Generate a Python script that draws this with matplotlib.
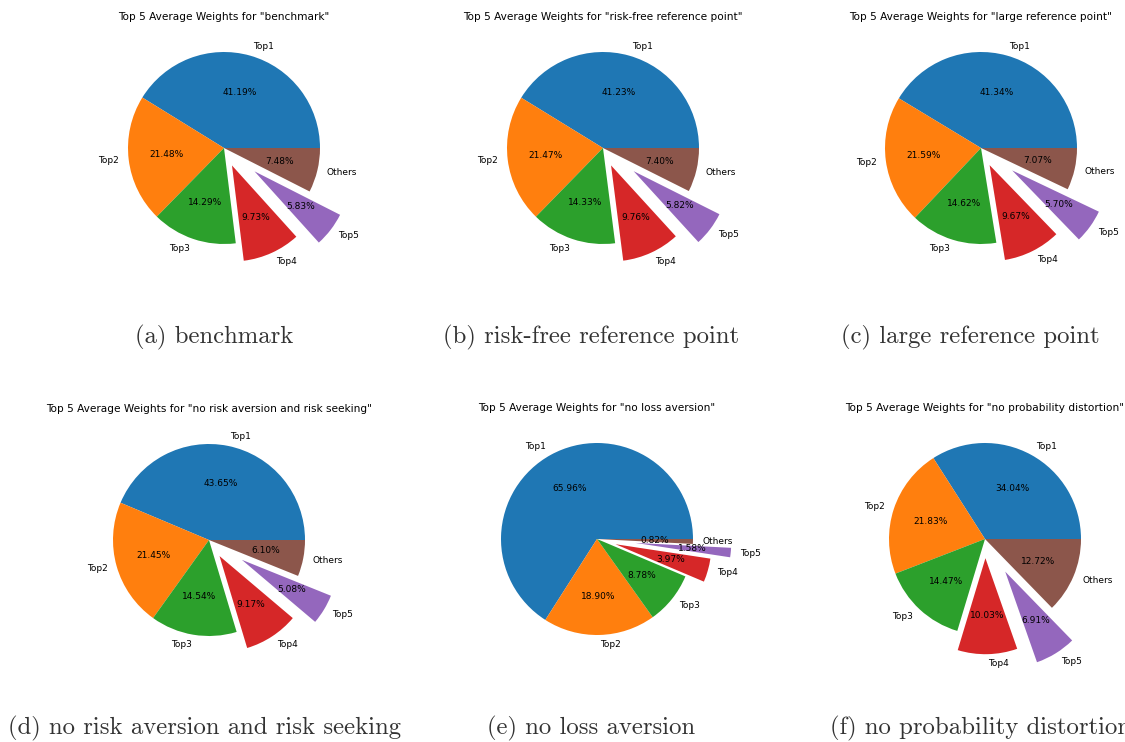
import matplotlib
matplotlib.use("Agg")
import matplotlib.pyplot as plt

labels = ["Top1", "Top2", "Top3", "Top4", "Top5", "Others"]

benchmark = [41.19, 21.48, 14.29, 9.73, 5.83, 7.48]
risk_free = [41.23, 21.47, 14.33, 9.76, 5.82, 7.40]
large_ref = [41.34, 21.59, 14.62, 9.67, 5.70, 7.07]
no_risk_av = [43.65, 21.45, 14.54, 9.17, 5.08, 6.10]
no_loss_av = [65.96, 18.90, 8.78, 3.97, 1.58, 0.82]
no_prob_dist = [34.04, 21.83, 14.47, 10.03, 6.91, 12.72]

names = ["benchmark", "risk-free reference point", "large reference point",
         "no risk aversion and risk seeking", "no loss aversion",
         "no probability distortion"]
captions = ["(a) benchmark", "(b) risk-free reference point",
            "(c) large reference point", "(d) no risk aversion and risk seeking",
            "(e) no loss aversion", "(f) no probability distortion"]
all_data = [benchmark, risk_free, large_ref, no_risk_av, no_loss_av, no_prob_dist]

explode = [0, 0, 0, 0.2, 0.4, 0]

W, H = 1125, 742
fig = plt.figure(figsize=(W / 100, H / 100), dpi=100)

# pie centres (px) and caption centres (px)
centres = [(224, 148), (603, 148), (981, 148), (209, 540), (597, 539), (985, 539)]
cap_pos = [(214, 337), (591, 337), (970, 337), (204, 728), (591, 728), (981, 728)]
R = 96
side = 2.5 * R


def make_autopct(total):
    # show the stored weight, not the renormalised share
    return lambda pct: f"{pct * total / 100:.2f}%"


for i, data in enumerate(all_data):
    cx, cy = centres[i]
    ax = fig.add_axes([(cx - side / 2) / W, (H - cy - side / 2) / H, side / W, side / H])
    wedges, texts, autotexts = ax.pie(data, labels=labels, explode=explode,
                                      autopct=make_autopct(sum(data)),
                                      textprops={'fontsize': 6.5})
    ax.set_title(f'Top 5 Average Weights for "{names[i]}"', fontsize=7.6)
    ax.axis('equal')
    ax.set_xlim(-1.25, 1.25)
    ax.set_ylim(-1.25, 1.25)

    x, y = cap_pos[i]
    fig.text(x / W, 1 - y / H, captions[i], ha='center', va='center',
             fontsize=17.8, family='cmr10', color='#333333')

fig.savefig("out.png", dpi=100)
